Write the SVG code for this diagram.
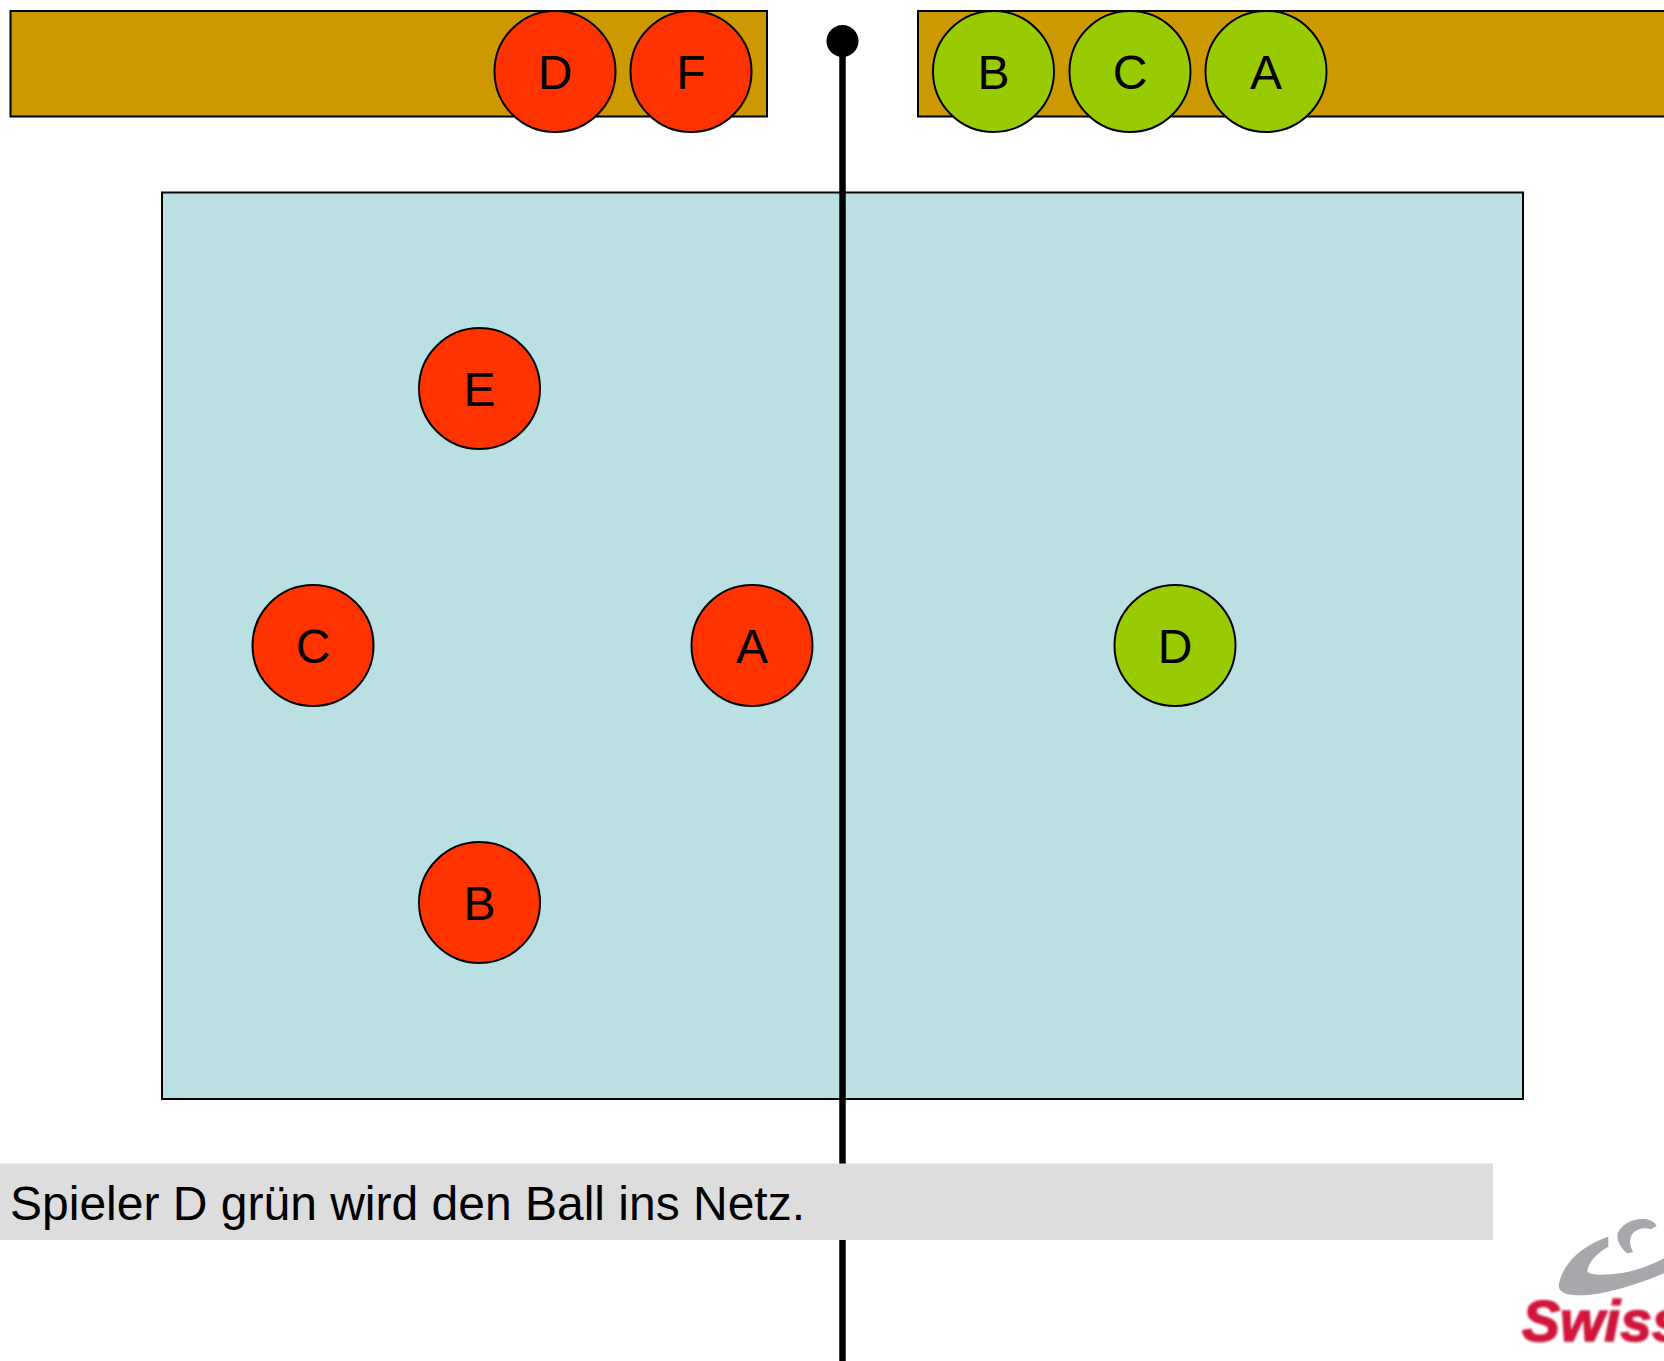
<svg xmlns="http://www.w3.org/2000/svg" width="1664" height="1361" viewBox="0 0 1664 1361">
<style>
.bench{fill:#cc9900;stroke:#000;stroke-width:2}
.court{fill:#bbe0e3;stroke:#000;stroke-width:2}
.red{fill:#ff3300;stroke:#000;stroke-width:2}
.green{fill:#99cc00;stroke:#000;stroke-width:2}
.lbl{font-family:"Liberation Sans",Arial,sans-serif;font-size:48px;fill:#000;text-anchor:middle}
.cap{font-family:"Liberation Sans",Arial,sans-serif;font-size:48px;fill:#000}
</style>
<defs><filter id="soft" x="-5%" y="-5%" width="110%" height="110%"><feGaussianBlur stdDeviation="0.9"/></filter></defs>
<rect width="1664" height="1361" fill="#fff"/>
<rect id="bench-left" class="bench" x="10.500" y="11" width="756.500" height="105.500"/>
<rect id="bench-right" class="bench" x="918" y="11" width="760" height="105.500"/>
<rect id="court" class="court" x="162" y="192.500" width="1361" height="906.500"/>
<g id="connectors"><line id="net" x1="842.500" y1="41" x2="842.500" y2="1361" stroke="#000" stroke-width="6.500"/></g>
<circle id="net-post" cx="842.500" cy="41" r="16" fill="#000"/>
<g id="bench-D-red"><circle class="red" cx="555" cy="71.500" r="60.500"/><text class="lbl" x="555" y="88.500">D</text></g>
<g id="bench-F-red"><circle class="red" cx="691" cy="71.500" r="60.500"/><text class="lbl" x="691" y="88.500">F</text></g>
<g id="bench-B-green"><circle class="green" cx="993.500" cy="71.500" r="60.500"/><text class="lbl" x="993.500" y="88.500">B</text></g>
<g id="bench-C-green"><circle class="green" cx="1130" cy="71.500" r="60.500"/><text class="lbl" x="1130" y="88.500">C</text></g>
<g id="bench-A-green"><circle class="green" cx="1266" cy="71.500" r="60.500"/><text class="lbl" x="1266" y="88.500">A</text></g>
<g id="court-E-red"><circle class="red" cx="479.500" cy="388.500" r="60.500"/><text class="lbl" x="479.500" y="406">E</text></g>
<g id="court-C-red"><circle class="red" cx="313" cy="645.500" r="60.500"/><text class="lbl" x="313" y="663">C</text></g>
<g id="court-A-red"><circle class="red" cx="752" cy="645.500" r="60.500"/><text class="lbl" x="752" y="663">A</text></g>
<g id="court-D-green"><circle class="green" cx="1175" cy="645.500" r="60.500"/><text class="lbl" x="1175" y="663">D</text></g>
<g id="court-B-red"><circle class="red" cx="479.500" cy="902.500" r="60.500"/><text class="lbl" x="479.500" y="920">B</text></g>
<g id="caption"><rect x="0" y="1163.500" width="1493" height="76.500" fill="#dddddd"/><text class="cap" x="10" y="1220">Spieler D grün wird den Ball ins Netz.</text></g>
<g id="logo">
<g transform="translate(1480,1190) scale(0.3333)" fill="#a6a8ab" filter="url(#soft)">
<path d="M236 285C245 245 265 210 310 178C335 160 360 148 385 140L385 170C350 190 325 215 322 245C335 258 380 255 430 248C480 240 520 222 552 205L552 250C500 272 430 298 350 312C300 318 235 322 236 285Z"/>
<path d="M413 130C428 98 465 83 500 88C515 91 525 98 530 108L512 118C490 110 468 117 455 135C447 150 450 170 460 186L442 190C423 177 408 150 413 130Z"/>
</g>
<text x="1522" y="1341" font-family="'Liberation Sans',Arial,sans-serif" font-size="57" font-weight="700" font-style="italic" fill="#d0173c" stroke="#d0173c" stroke-width="1.500" filter="url(#soft)">Swiss</text>
</g>
</svg>
